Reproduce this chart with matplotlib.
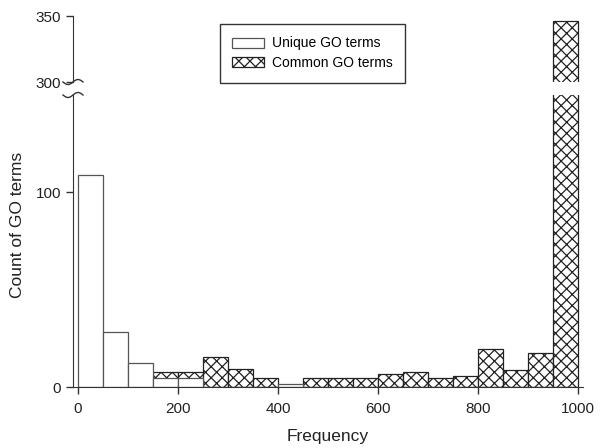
import numpy as np
import matplotlib
matplotlib.use("Agg")
import matplotlib.pyplot as plt
from matplotlib.patches import Patch
from matplotlib.lines import Line2D

plt.rcParams['font.family'] = ['Liberation Sans', 'DejaVu Sans']
plt.rcParams['hatch.linewidth'] = 0.9

# histogram data (bin width 50, frequency 0..1000)
bin_edges = list(range(0, 1001, 50))
unique_counts = [109, 28, 12.5, 4.4, 4.4, 0, 0, 0, 1.5, 0,
                 0, 0, 0, 0, 0, 0, 0, 0, 0, 0]
common_counts = [0, 0, 0, 7.5, 7.5, 15.2, 9.2, 4.4, 0, 4.4,
                 4.4, 4.4, 6.5, 7.5, 4.4, 5.5, 19.3, 8.5, 17.3, 346]
x_ticks = [0, 200, 400, 600, 800, 1000]
lower_ticks = [0, 100]
upper_ticks = [300, 350]

W, H = 600, 448
fig = plt.figure(figsize=(6, 4.48), dpi=100)

def fig_rect(x0, y_top, x1, y_bot):
    return [x0 / W, (H - y_bot) / H, (x1 - x0) / W, (y_bot - y_top) / H]

ax_low = fig.add_axes(fig_rect(73, 95, 583, 387))
ax_up = fig.add_axes(fig_rect(73, 16, 583, 82))

lefts = np.array(bin_edges[:-1])
width = 50
edge_dark = '#222222'
edge_grey = '#555555'
hatch = 'xxx'

for ax in (ax_low, ax_up):
    ax.bar(lefts, common_counts, width=width, align='edge', color='white',
           edgecolor=edge_dark, hatch=hatch, linewidth=0.9)
    ax.bar(lefts, unique_counts, width=width, align='edge', color='white',
           edgecolor=edge_grey, linewidth=0.9)
    ax.set_xlim(-10, 1010)
    ax.spines['top'].set_visible(False)
    ax.spines['right'].set_visible(False)
    ax.spines['left'].set_color('#333333')
    ax.spines['bottom'].set_color('#333333')
    ax.tick_params(direction='out', length=5, width=1, colors='#333333',
                   labelsize=11, labelcolor='#222222')

ax_low.set_ylim(0, 150)
ax_low.set_yticks(lower_ticks)
ax_low.set_xticks(x_ticks)
ax_low.tick_params(axis='x', pad=6)
ax_low.set_xlabel('Frequency', fontsize=12.5, labelpad=9, color='#222222')

ax_up.set_ylim(300, 350)
ax_up.set_yticks(upper_ticks)
ax_up.spines['bottom'].set_visible(False)
ax_up.set_xticks([])

fig.text(18 / W, (H - 225) / H, 'Count of GO terms',
         rotation=90, ha='center', va='center', fontsize=12.5, color='#222222')

# wavy break marks on the y axis
t = np.linspace(0, 1, 40)
for yb in (82, 95):
    xs = 63 + 20 * t
    ys = yb + 2.5 * np.sin(2 * np.pi * t)
    fig.add_artist(Line2D(xs / W, (H - ys) / H, transform=fig.transFigure,
                          color='#333333', linewidth=1))

handles = [Patch(facecolor='white', edgecolor=edge_grey, linewidth=0.9),
           Patch(facecolor='white', edgecolor=edge_dark, hatch=hatch, linewidth=0.9)]
fig.legend(handles, ['Unique GO terms', 'Common GO terms'],
           loc='upper left', bbox_to_anchor=(220 / W, (H - 24) / H),
           borderaxespad=0, fontsize=10, frameon=True, fancybox=False,
           edgecolor='#333333', framealpha=1,
           handlelength=2.3, handleheight=0.75, handletextpad=0.55,
           borderpad=0.9, labelspacing=0.4)

fig.savefig('out.png', dpi=100)
